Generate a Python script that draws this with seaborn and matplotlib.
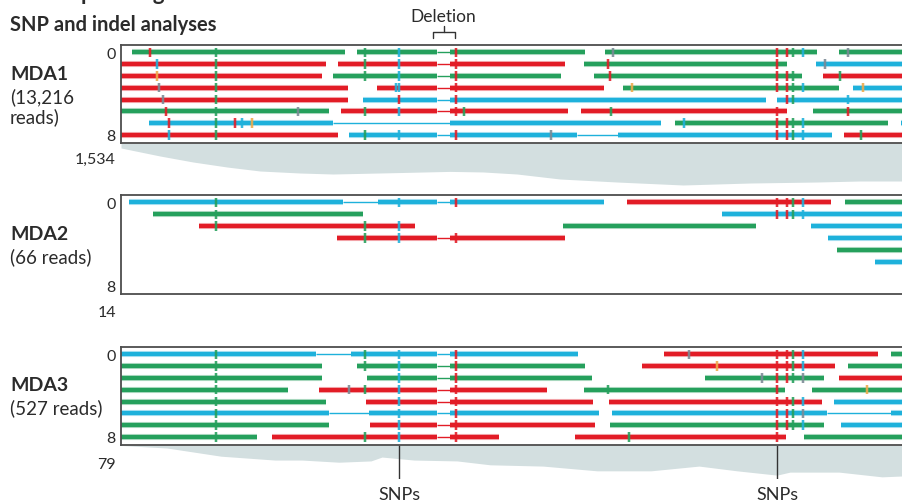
import numpy as np
import pandas as pd
import matplotlib.pyplot as plt
import seaborn as sns

##-------------------------------------------
## data: positions along the shown window, rows = read slots
## each read is (row, base, breakpoints): thick, thin, thick ... between breakpoints
mda1_reads = [
    (0, 'g', [132, 345]), (0, 'g', [357, 437, 450, 585]), (0, 'g', [605, 817]), (0, 'g', [839, 910]),
    (1, 'r', [121, 326]), (1, 'r', [338, 437, 450, 565]), (1, 'g', [584, 787]), (1, 'b', [816, 910]),
    (2, 'r', [121, 322]), (2, 'g', [333, 437, 450, 561]), (2, 'g', [594, 802]), (2, 'r', [823, 910]),
    (3, 'r', [121, 348]), (3, 'r', [377, 437, 450, 604]), (3, 'g', [623, 839]), (3, 'b', [853, 910]),
    (4, 'r', [121, 348]), (4, 'b', [363, 437, 450, 766]), (4, 'b', [777, 910]),
    (5, 'g', [121, 329]), (5, 'r', [341, 437, 450, 568]), (5, 'r', [581, 787]), (5, 'g', [813, 910]),
    (6, 'b', [149, 333, 450, 661]), (6, 'g', [675, 888]), (6, 'b', [901, 910]),
    (7, 'r', [121, 338]), (7, 'b', [349, 437, 450, 577, 618, 832]), (7, 'r', [844, 910]),
]
mda2_reads = [
    (0, 'b', [129, 343, 378, 437, 450, 604]), (0, 'r', [627, 831]), (0, 'g', [845, 910]),
    (1, 'g', [153, 363]), (1, 'b', [722, 910]),
    (2, 'r', [199, 415]), (2, 'g', [563, 756]), (2, 'b', [811, 910]),
    (3, 'r', [337, 437, 450, 565]), (3, 'b', [828, 910]),
    (4, 'g', [837, 910]),
    (5, 'b', [875, 910]),
]
mda3_reads = [
    (0, 'b', [121, 316, 351, 437, 450, 578]), (0, 'r', [664, 878]), (0, 'g', [891, 910]),
    (1, 'g', [121, 322]), (1, 'g', [357, 437, 450, 585]), (1, 'r', [642, 835]), (1, 'g', [848, 910]),
    (2, 'g', [121, 322]), (2, 'g', [367, 437, 450, 592]), (2, 'g', [705, 824]), (2, 'r', [839, 910]),
    (3, 'g', [121, 288]), (3, 'r', [319, 437, 450, 547]), (3, 'g', [584, 785]), (3, 'g', [812, 910]),
    (4, 'g', [121, 326]), (4, 'r', [366, 437, 450, 593]), (4, 'r', [609, 822]), (4, 'b', [834, 910]),
    (5, 'b', [121, 329, 369, 437, 450, 599]), (5, 'b', [612, 827, 891, 910]),
    (6, 'g', [121, 329]), (6, 'r', [370, 437, 450, 595]), (6, 'g', [610, 824]), (6, 'b', [841, 910]),
    (7, 'g', [121, 257]), (7, 'r', [272, 437, 450, 499]), (7, 'r', [575, 786]), (7, 'g', [804, 910]),
]

## mismatches per row: (position, base)
mda1_marks = [
    [(150, 'r'), (216, 'g'), (365, 'g'), (399, 'b'), (456, 'r'), (613, 'k'), (777, 'r'), (787, 'r'), (793, 'g'), (803, 'b'), (848, 'k')],
    [(157, 'b'), (216, 'g'), (365, 'g'), (399, 'b'), (456, 'r'), (608, 'r'), (777, 'r'), (825, 'k')],
    [(157, 'o'), (216, 'g'), (365, 'g'), (399, 'b'), (456, 'r'), (610, 'r'), (777, 'r'), (787, 'r'), (793, 'g'), (840, 'g')],
    [(159, 'k'), (216, 'g'), (396, 'b'), (399, 'b'), (456, 'r'), (632, 'o'), (777, 'r'), (787, 'r'), (793, 'g'), (803, 'b'), (863, 'o')],
    [(163, 'k'), (216, 'g'), (399, 'r'), (456, 'r'), (787, 'r'), (793, 'g'), (848, 'b')],
    [(166, 'r'), (216, 'g'), (298, 'k'), (365, 'g'), (399, 'b'), (456, 'r'), (464, 'g'), (611, 'g'), (777, 'r'), (848, 'r')],
    [(169, 'r'), (216, 'g'), (235, 'r'), (242, 'b'), (252, 'o'), (684, 'b'), (777, 'r'), (787, 'r'), (793, 'g'), (803, 'b')],
    [(169, 'b'), (216, 'g'), (365, 'g'), (399, 'b'), (456, 'r'), (551, 'k'), (777, 'r'), (787, 'r'), (793, 'g'), (803, 'b'), (861, 'g')],
]
mda2_marks = [
    [(216, 'g'), (399, 'b'), (456, 'r'), (777, 'r'), (787, 'r'), (793, 'g'), (803, 'b')],
    [(216, 'g'), (777, 'r'), (787, 'r'), (793, 'g'), (803, 'b')],
    [(216, 'g'), (365, 'g'), (399, 'b')],
    [(365, 'g'), (399, 'b'), (456, 'r')],
]
mda3_marks = [
    [(216, 'g'), (365, 'g'), (399, 'b'), (456, 'r'), (689, 'k'), (777, 'r'), (787, 'r'), (793, 'g'), (803, 'b')],
    [(216, 'g'), (365, 'g'), (399, 'b'), (456, 'r'), (717, 'o'), (777, 'r'), (787, 'r'), (793, 'g'), (803, 'b')],
    [(216, 'g'), (399, 'b'), (456, 'r'), (762, 'k'), (777, 'r'), (787, 'r'), (793, 'g'), (803, 'k')],
    [(216, 'g'), (349, 'k'), (365, 'g'), (399, 'b'), (456, 'r'), (608, 'g'), (777, 'r'), (867, 'o')],
    [(216, 'g'), (399, 'b'), (456, 'r'), (777, 'r'), (787, 'r'), (793, 'g'), (803, 'b')],
    [(216, 'g'), (399, 'b'), (456, 'r'), (777, 'r'), (787, 'r'), (793, 'g'), (803, 'k')],
    [(216, 'g'), (399, 'b'), (456, 'r'), (777, 'r'), (787, 'r'), (793, 'g'), (803, 'b')],
    [(216, 'g'), (365, 'g'), (399, 'b'), (456, 'r'), (629, 'g'), (777, 'r')],
]

## read depth under the panels
cov1_pos = [121, 160, 193, 227, 260, 300, 333, 400, 450, 483, 517, 560, 617, 683, 750, 817, 860, 902]
cov1_depth = [174, 453, 662, 837, 976, 1046, 1081, 1030, 990, 1010, 1081, 1255, 1360, 1464, 1395, 1360, 1325, 1325]
cov3_pos = [121, 167, 221, 275, 302, 339, 371, 382, 414, 457, 490, 543, 597, 651, 699, 737, 777, 790, 839, 882, 902]
cov3_depth = [1, 7, 26, 35, 35, 40, 37, 28, 35, 37, 46, 49, 60, 60, 49, 60, 70, 63, 63, 74, 72]

samples = ['MDA1', 'MDA2', 'MDA3']
sample_reads = ['(13,216\nreads)', '(66 reads)', '(527 reads)']
max_depth = ['1,534', '14', '79']
snp_sites = [399, 777]

##-------------------------------------------
sns.set_theme(style='white')
plt.rcParams['font.family'] = ['Lato', 'DejaVu Sans']

base_col = {'g': '#25a05c', 'r': '#e21c26', 'b': '#1eb1db', 'k': '#7b8a95', 'o': '#efab4a'}
txt = '#2b2b2b'
edge = '#4d4d4d'
W, H = 902, 502


def box(x0, y0, x1, y1):
    return [x0 / W, 1 - y1 / H, (x1 - x0) / W, (y1 - y0) / H]


def draw_panel(ax, reads, marks):
    for row, b, pts in reads:
        c = base_col[b]
        for i in range(len(pts) - 1):
            if i % 2 == 0:
                ax.hlines(row, pts[i], pts[i + 1], color=c, lw=4.4, alpha=0.35, capstyle='butt')
                ax.hlines(row, pts[i], pts[i + 1], color=c, lw=3.0, capstyle='butt')
            else:
                ax.hlines(row, pts[i], pts[i + 1], color=c, lw=1.0, capstyle='butt')
    for row, mk in enumerate(marks):
        for x, b in mk:
            c = base_col[b]
            ax.vlines(x, row - 0.4, row + 0.4, color=c, lw=2.6, alpha=0.3)
            ax.vlines(x, row - 0.4, row + 0.4, color=c, lw=1.2)
    ax.set_xlim(121, 902)
    ax.set_ylim(7.68, -0.62)
    ax.set_xticks([])
    ax.set_yticks([0, 7])
    ax.set_yticklabels(['0', '8'])
    ax.tick_params(axis='y', length=0, pad=4, labelsize=11.5, labelcolor=txt)
    for s in ['left', 'top', 'bottom']:
        ax.spines[s].set_color(edge)
        ax.spines[s].set_linewidth(1.3)
    ax.spines['right'].set_visible(False)
    ax.set_facecolor('none')


fig = plt.figure(figsize=(9.02, 5.02), dpi=100)

cov1 = fig.add_axes(box(121, 144, 902, 188))
cov1.fill_between(cov1_pos, 0, cov1_depth, color='#d3dfe0', lw=0)
cov1.set_xlim(121, 902)
cov1.set_ylim(1534, 0)
cov1.axis('off')

cov3 = fig.add_axes(box(121, 446, 902, 480))
cov3.fill_between(cov3_pos, 0, cov3_depth, color='#d3dfe0', lw=0)
cov3.set_xlim(121, 902)
cov3.set_ylim(79, 0)
cov3.axis('off')
cov3.vlines(snp_sites, 0, 79, color='#333333', lw=1.0)
for x in snp_sites:
    cov3.annotate('SNPs', (x, 79), xytext=(0, -11), textcoords='offset points',
                  ha='center', va='center', fontsize=13, color=txt, annotation_clip=False)

ax1 = fig.add_axes(box(121, 46, 902, 144))
ax2 = fig.add_axes(box(121, 196, 902, 295))
ax3 = fig.add_axes(box(121, 348, 902, 446))
draw_panel(ax1, mda1_reads, mda1_marks)
draw_panel(ax2, mda2_reads, mda2_marks)
draw_panel(ax3, mda3_reads, mda3_marks)

## deletion bracket above the first panel
ax1.plot([433, 433, 455, 455], [-1.21, -1.69, -1.69, -1.21], color='#333333', lw=1.0, clip_on=False)
ax1.plot([444, 444], [-1.69, -2.22], color='#333333', lw=1.0, clip_on=False)
fig.text(443 / W, 1 - 17 / H, 'Deletion', ha='center', va='center', fontsize=12.5, color=txt)

## titles and labels (the heading above is cut by the top edge, as in the source)
fig.text(52 / W, 1 - 0.5 / H, 'sequencing', ha='left', va='baseline', fontsize=16,
         fontweight='bold', color=txt)
fig.text(10 / W, 1 - 25 / H, 'SNP and indel analyses', ha='left', va='center', fontsize=14.5,
         fontweight='bold', color=txt)

name_y = [75, 234, 386]
sub_y = [107, 257, 408]
depth_y = [160, 313, 465]
for i in range(3):
    fig.text(10 / W, 1 - name_y[i] / H, samples[i], ha='left', va='center', fontsize=14,
             fontweight='bold', color=txt)
    fig.text(10 / W, 1 - sub_y[i] / H, sample_reads[i], ha='left', va='center', fontsize=13.5,
             color=txt, linespacing=1.15)
    fig.text(116 / W, 1 - depth_y[i] / H, max_depth[i], ha='right', va='center', fontsize=11.5,
             color=txt)

plt.savefig('out.png', dpi=100)
